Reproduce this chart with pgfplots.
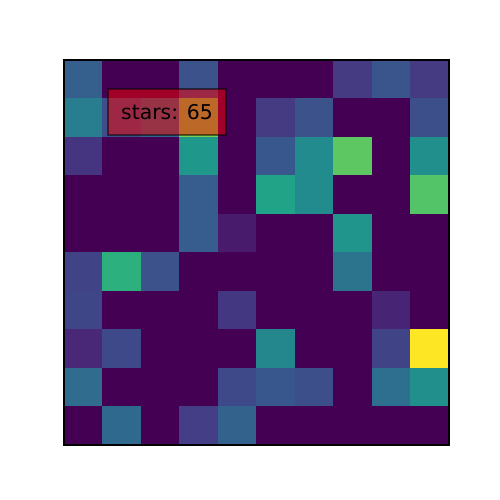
\documentclass[border=0pt]{standalone}
\usepackage{pgfplots}
\pgfplotsset{compat=1.18}
\usepackage{pgfplotstable}
\usepackage{fontspec}
\setmainfont{DejaVu Sans}

% 10x10 grid, row = y (0 at top), col = x, value on 0..1 viridis scale
\pgfplotstableread{
x y z
0 0 0.30
1 0 0
2 0 0
3 0 0.25
4 0 0
5 0 0
6 0 0
7 0 0.17
8 0 0.26
9 0 0.17
0 1 0.42
1 1 0.24
2 1 0.33
3 1 0.80
4 1 0
5 1 0.17
6 1 0.25
7 1 0
8 1 0
9 1 0.24
0 2 0.15
1 2 0
2 2 0
3 2 0.53
4 2 0
5 2 0.27
6 2 0.48
7 2 0.75
8 2 0
9 2 0.50
0 3 0
1 3 0
2 3 0
3 3 0.29
4 3 0
5 3 0.58
6 3 0.48
7 3 0
8 3 0
9 3 0.73
0 4 0
1 4 0
2 4 0
3 4 0.29
4 4 0.07
5 4 0
6 4 0
7 4 0.52
8 4 0
9 4 0
0 5 0.20
1 5 0.64
2 5 0.25
3 5 0
4 5 0
5 5 0
6 5 0
7 5 0.38
8 5 0
9 5 0
0 6 0.21
1 6 0
2 6 0
3 6 0
4 6 0.16
5 6 0
6 6 0
7 6 0
8 6 0.10
9 6 0
0 7 0.11
1 7 0.22
2 7 0
3 7 0
4 7 0
5 7 0.46
6 7 0
7 7 0
8 7 0.20
9 7 1.00
0 8 0.35
1 8 0
2 8 0
3 8 0
4 8 0.22
5 8 0.27
6 8 0.24
7 8 0
8 8 0.36
9 8 0.50
0 9 0
1 9 0.34
2 9 0
3 9 0.18
4 9 0.31
5 9 0
6 9 0
7 9 0
8 9 0
9 9 0
}\gridtable

\begin{document}
\begin{tikzpicture}
\path[use as bounding box] (0,0) rectangle (10cm,10cm);
\begin{axis}[
    at={(1.28cm,1.1cm)}, anchor=south west,
    width=7.7cm, height=7.7cm,
    scale only axis,
    xmin=-0.5, xmax=9.5,
    ymin=-0.5, ymax=9.5,
    y dir=reverse,
    enlargelimits=false,
    axis on top,
    xtick=\empty, ytick=\empty,
    colormap/viridis,
    point meta min=0, point meta max=1,
    axis line style={line width=0.6pt},
]
\addplot[matrix plot*, mesh/cols=10, point meta=explicit]
    table[x=x, y=y, meta=z] {\gridtable};
\fill[red, fill opacity=0.5, draw=black, draw opacity=0.5, line width=0.6pt]
    (axis cs:0.643,0.253) rectangle (axis cs:3.708,1.448);
\node[font=\fontsize{11.6pt}{13pt}\selectfont, text=black] at (axis cs:2.175,0.85) {stars: 65};
\end{axis}
\end{tikzpicture}
\end{document}
